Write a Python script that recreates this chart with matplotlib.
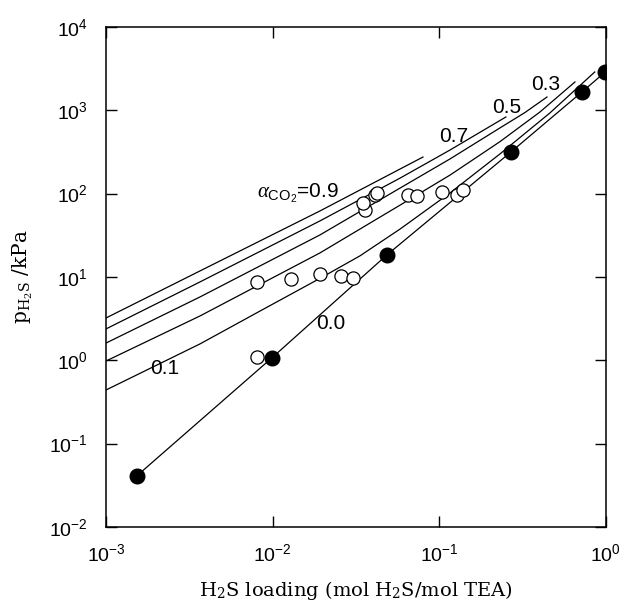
# H2S solubility in TEA, model curves at several CO2 loadings
import numpy as np
import matplotlib
matplotlib.use("Agg")
import matplotlib.pyplot as plt

plt.rcParams['font.family'] = 'Liberation Sans'
plt.rcParams['mathtext.fontset'] = 'custom'
plt.rcParams['mathtext.rm'] = 'Liberation Sans'
plt.rcParams['mathtext.it'] = 'Liberation Serif:italic'

# model curves, one per CO2 loading (x = H2S loading, y = p_H2S kPa)
curve_09_x = [0.001, 0.00366, 0.0192, 0.0798]
curve_09_y = [3.22, 11.8, 61.9, 275]
curve_07_x = [0.001, 0.00366, 0.0192, 0.0583, 0.116, 0.251]
curve_07_y = [2.38, 8.71, 47.0, 154, 334, 832]
curve_05_x = [0.001, 0.00366, 0.0192, 0.0583, 0.116, 0.231, 0.327, 0.443]
curve_05_y = [1.61, 5.75, 31.9, 117, 261, 614, 942, 1445]
curve_03_x = [0.001, 0.00366, 0.0192, 0.0583, 0.116, 0.231, 0.402, 0.652]
curve_03_y = [0.98, 3.40, 19.4, 73, 167, 420, 955, 2188]
curve_01_x = [0.001, 0.00366, 0.0084, 0.0192, 0.0334, 0.0583, 0.116, 0.231, 0.461, 0.857]
curve_01_y = [0.44, 1.57, 3.90, 9.6, 17.9, 37.7, 102, 299, 929, 2884]
curve_00_x = [0.00153, 0.0099, 0.0485, 0.269, 0.718, 0.99]
curve_00_y = [0.041, 1.07, 18.4, 316, 1660, 2880]

# measured points: no CO2 (filled) and with CO2 (open)
filled_x = [0.00153, 0.0099, 0.0485, 0.269, 0.718, 0.99]
filled_y = [0.041, 1.07, 18.4, 316, 1660, 2880]
open_x = [0.0081, 0.0081, 0.0129, 0.0192, 0.0257, 0.0303, 0.0356, 0.0350,
          0.0411, 0.0420, 0.0652, 0.0731, 0.1033, 0.127, 0.139]
open_y = [1.1, 8.7, 9.5, 10.9, 10.3, 9.7, 63.7, 76.6,
          96.4, 101, 96.4, 92.4, 105, 96.4, 110]

curves = [(curve_09_x, curve_09_y), (curve_07_x, curve_07_y),
          (curve_05_x, curve_05_y), (curve_03_x, curve_03_y),
          (curve_01_x, curve_01_y), (curve_00_x, curve_00_y)]

fig = plt.figure(figsize=(6.24, 6.07), dpi=100)
ax = fig.add_axes([0.170, 0.132, 0.801, 0.8235])

for cx, cy in curves:
    ax.plot(cx, cy, color='black', lw=0.9)

ax.plot(open_x, open_y, 'o', ms=9.5, mfc='white', mec='black', mew=0.9)
ax.plot(filled_x, filled_y, 'o', ms=10.5, mfc='black', mec='black')

ax.set_xscale('log')
ax.set_yscale('log')
ax.set_xlim(1e-3, 1)
ax.set_ylim(1e-2, 1e4)
ax.minorticks_off()
ax.tick_params(which='major', direction='in', length=8, width=1,
               top=True, right=True, labelsize=14)
ax.tick_params(axis='x', pad=12)
ax.tick_params(axis='y', pad=13)
ax.xaxis.offsetText.set_visible(False)
ax.yaxis.offsetText.set_visible(False)
for s in ax.spines.values():
    s.set_linewidth(1.1)

# curve labels
lab_kw = dict(fontsize=15, ha='center', va='center')
ax.text(0.00226, 0.787, '0.1', **lab_kw)
ax.text(0.0224, 2.73, '0.0', **lab_kw)
ax.text(0.1225, 479, '0.7', **lab_kw)
ax.text(0.2547, 1067, '0.5', **lab_kw)
ax.text(0.4365, 2014, '0.3', **lab_kw)
ax.text(0.00805, 88.7, r'$\alpha_{\mathregular{CO_2}}$=0.9', fontsize=15,
        ha='left', va='baseline')

ax.set_xlabel(r'H$_\mathregular{2}$S loading (mol H$_\mathregular{2}$S/mol TEA)',
              family='DejaVu Serif', fontsize=14, labelpad=10)
ax.set_ylabel(r'p$_{\mathregular{H_2S}}$ /kPa', family='DejaVu Serif',
              fontsize=14.5, labelpad=10)

fig.savefig('out.png', dpi=100)
